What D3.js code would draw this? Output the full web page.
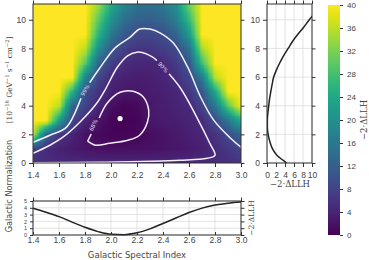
<!DOCTYPE html>
<html>
<head>
<meta charset="utf-8">
<script src="https://cdn.jsdelivr.net/npm/d3@7"></script>
<style>
  body { margin: 0; background: #fff; }
  svg { display: block; font-family: "DejaVu Sans", sans-serif; }
  .tick text { fill: #444; }
  .tick line { stroke: #333; }
</style>
</head>
<body>
<script>
// grid of -2*dLLH (rows = normalization, cols = spectral index)
var indexGrid = [1.4, 1.5, 1.6, 1.7, 1.8, 1.9, 2.0, 2.1, 2.2, 2.3, 2.4, 2.5, 2.6, 2.7, 2.8, 2.9, 3.0];
var normGrid = [0, 1, 2, 3, 4, 5, 6, 7, 8, 9, 10, 11];
var llhGrid = [
  [5.2, 4.9, 4.8, 4.7, 4.7, 4.6, 4.6, 4.6, 4.6, 4.6, 4.6, 4.6, 4.7, 4.8, 5.0, 5.4, 6.0],
  [7.0, 4.8, 3.6, 2.8, 2.2, 1.8, 1.6, 1.5, 1.6, 1.8, 2.0, 2.4, 2.9, 3.6, 4.9, 6.5, 8.5],
  [36, 12, 6.5, 4.0, 1.8, 0.9, 0.5, 0.4, 0.7, 1.4, 1.9, 2.6, 3.4, 4.3, 6.0, 9.0, 13],
  [60, 40, 22, 8.5, 4.0, 2.2, 0.5, 0.1, 0.5, 2.4, 3.0, 3.5, 4.0, 5.0, 9.3, 16, 25],
  [60, 50, 36, 13, 8.0, 4.2, 1.5, 0.4, 1.0, 2.6, 3.3, 3.9, 4.5, 8.0, 16, 30, 46],
  [70, 60, 46, 26, 9.2, 6.0, 3.6, 2.4, 2.4, 3.0, 3.6, 4.2, 6.5, 11, 24, 40, 55],
  [80, 70, 55, 40, 18, 8.5, 4.6, 3.6, 3.3, 3.5, 4.0, 5.5, 8.5, 17, 36, 55, 70],
  [90, 80, 65, 48, 30, 13, 7.5, 5.0, 4.4, 4.3, 4.7, 7.0, 11, 28, 46, 65, 80],
  [95, 85, 72, 55, 36, 20, 11, 7.5, 6.0, 6.2, 7.3, 9.0, 15, 35, 55, 72, 85],
  [100, 90, 78, 60, 40, 26, 16, 11, 8.8, 8.6, 9.5, 13, 22, 42, 62, 78, 90],
  [105, 95, 82, 65, 44, 30, 20, 14.5, 12, 11.8, 13, 17, 27, 45, 65, 82, 95],
  [110, 100, 86, 70, 48, 34, 24, 18, 15, 14.5, 16, 20, 31, 48, 68, 85, 100]
];

// contours [index, norm]
var contour68 = [[1.82, 1.52], [1.89, 2.78], [1.97, 4.17], [2.07, 4.94], [2.17, 5.01], [2.25, 4.59],
  [2.29, 3.69], [2.28, 2.85], [2.22, 1.94], [2.13, 1.59], [1.99, 1.38], [1.88, 1.24], [1.82, 1.52]];
var contour90 = [[1.40, 0.68], [1.53, 1.24], [1.63, 1.80], [1.76, 2.85], [1.89, 4.17], [1.96, 5.2],
  [2.05, 6.7], [2.13, 7.5], [2.20, 7.74], [2.32, 7.39], [2.40, 6.69], [2.53, 5.29], [2.66, 3.19],
  [2.76, 1.38], [2.80, 0.54], [2.74, 0.33], [2.53, 0.19], [2.32, 0.12], [1.92, 0.05], [1.40, 0.02]];
var contour99 = [[1.40, 1.45], [1.53, 1.94], [1.66, 2.52], [1.80, 5.08], [1.92, 6.71], [2.03, 8.02],
  [2.15, 8.81], [2.22, 9.35], [2.30, 9.35], [2.38, 9.07], [2.48, 8.37], [2.59, 6.69], [2.69, 4.59],
  [2.79, 2.99], [2.92, 1.73], [3.00, 1.10]];
var labelText = ["68%", "90%", "99%"];
var labelPos = [[1.865, 2.64], [2.40, 6.69], [1.80, 5.08]];
var labelAngle = [-63, 48, -61];
var bestFit = [2.07, 3.1];

// profiles
var profIndex = [1.4, 1.5, 1.6, 1.7, 1.8, 1.9, 2.0, 2.1, 2.2, 2.3, 2.4, 2.5, 2.6, 2.7, 2.8, 2.9, 3.0];
var profIndexLLH = [3.95, 3.35, 2.7, 1.9, 1.13, 0.5, 0.1, 0.05, 0.32, 0.9, 1.7, 2.5, 3.3, 3.95, 4.4, 4.68, 4.85];
var profNorm = [0, 0.5, 1, 1.5, 2, 2.5, 3, 3.5, 4, 4.5, 5, 5.5, 6, 6.5, 7, 7.5, 8, 8.5, 9, 9.5, 10, 10.5, 11];
var profNormLLH = [4.4, 2.3, 1.2, 0.62, 0.25, 0.08, 0.08, 0.2, 0.38, 0.58, 0.85, 1.15, 1.48, 2.1, 2.85,
  3.7, 4.7, 5.7, 6.9, 8.2, 9.4, 10.7, 12.1];

var indexTicks = [1.4, 1.6, 1.8, 2.0, 2.2, 2.4, 2.6, 2.8, 3.0];
var normTicks = [0, 2, 4, 6, 8, 10];
var llhTicks = [0, 2, 4, 6, 8, 10];
var smallTicks = [0, 1, 2, 3, 4, 5];
var barTicks = [0, 4, 8, 12, 16, 20, 24, 28, 32, 36, 40];

var W = 369, H = 260;
var VMAX = 40;

function main() {
  var svg = d3.select("body").append("svg").attr("width", W).attr("height", H);
  var defs = svg.append("defs");

  var x = d3.scaleLinear().domain([1.4, 3.0]).range([33, 241]);
  var y = d3.scaleLinear().domain([0, 11.1]).range([163, 4]);
  var rx = d3.scaleLinear().domain([0, 10]).range([267, 312]);
  var by = d3.scaleLinear().domain([0, 5]).range([235, 201]);
  var cy = d3.scaleLinear().domain([0, VMAX]).range([235, 5]);
  var color = function(v) { return d3.interpolateViridis(Math.max(0, Math.min(v, VMAX)) / VMAX); };

  heatmap(svg, x, y, color);

  defs.append("clipPath").attr("id", "mainClip").append("rect")
    .attr("x", x(1.4)).attr("y", y(11.1)).attr("width", x(3.0) - x(1.4)).attr("height", y(0) - y(11.1));

  // contour lines with gaps for labels
  var mask = defs.append("mask").attr("id", "labelMask");
  mask.append("rect").attr("width", W).attr("height", H).attr("fill", "#fff");
  labelPos.forEach(function(p, k) {
    mask.append("rect").attr("x", -9).attr("y", -3.5).attr("width", 18).attr("height", 7)
      .attr("fill", "#000")
      .attr("transform", "translate(" + x(p[0]) + "," + y(p[1]) + ") rotate(" + labelAngle[k] + ")");
  });
  var line = d3.line().x(function(d) { return x(d[0]); }).y(function(d) { return y(d[1]); })
    .curve(d3.curveCatmullRom);
  var cg = svg.append("g").attr("clip-path", "url(#mainClip)");
  var cgm = cg.append("g").attr("mask", "url(#labelMask)");
  [contour68, contour90, contour99].forEach(function(c) {
    cgm.append("path").attr("d", line(c)).attr("fill", "none")
      .attr("stroke", "#f4eef8").attr("stroke-width", 1.5);
  });
  labelPos.forEach(function(p, k) {
    cg.append("text").text(labelText[k])
      .attr("transform", "translate(" + x(p[0]) + "," + y(p[1]) + ") rotate(" + labelAngle[k] + ")")
      .attr("text-anchor", "middle").attr("dy", "0.35em")
      .attr("font-size", 5.5).attr("fill", "#e6dcef");
  });
  svg.append("circle").attr("cx", x(bestFit[0])).attr("cy", y(bestFit[1])).attr("r", 2.6).attr("fill", "#fff");

  frame(svg, x, y, indexTicks, normTicks, true);

  // right panel: profile over normalization
  grid(svg, rx, y, llhTicks, normTicks);
  defs.append("clipPath").attr("id", "rightClip").append("rect")
    .attr("x", rx(0)).attr("y", y(11.1)).attr("width", rx(10) - rx(0)).attr("height", y(0) - y(11.1));
  var rline = d3.line().x(function(d) { return rx(d); }).y(function(d, i) { return y(profNorm[i]); })
    .curve(d3.curveMonotoneY);
  svg.append("path").attr("d", rline(profNormLLH)).attr("clip-path", "url(#rightClip)")
    .attr("fill", "none").attr("stroke", "#222").attr("stroke-width", 1.5);
  frame(svg, rx, y, llhTicks, normTicks, true);
  svg.append("text").attr("x", 290).attr("y", 187).attr("text-anchor", "middle")
    .attr("font-family", "DejaVu Serif").attr("font-size", 8.5).attr("fill", "#444").text("\u22122\u00b7\u0394LLH");

  // bottom panel: profile over index
  grid(svg, x, by, indexTicks, smallTicks);
  var bline = d3.line().x(function(d, i) { return x(profIndex[i]); }).y(function(d) { return by(d); })
    .curve(d3.curveMonotoneX);
  svg.append("path").attr("d", bline(profIndexLLH))
    .attr("fill", "none").attr("stroke", "#222").attr("stroke-width", 1.5);
  frame(svg, x, by, indexTicks, smallTicks, false);
  svg.append("text").attr("x", 137).attr("y", 257.5).attr("text-anchor", "middle")
    .attr("font-size", 8.5).attr("fill", "#444").text("Galactic Spectral Index");
  svg.append("text").attr("transform", "translate(254,218) rotate(-90)").attr("text-anchor", "middle")
    .attr("font-family", "DejaVu Serif").attr("font-size", 7.5).attr("fill", "#444").text("\u22122\u00b7\u0394LLH");

  // y label
  svg.append("text").attr("transform", "translate(12,186) rotate(-90)").attr("text-anchor", "middle")
    .attr("font-size", 8.2).attr("fill", "#444").text("Galactic Normalization");
  var u = svg.append("text").attr("transform", "translate(12,80) rotate(-90)").attr("text-anchor", "middle")
    .attr("font-family", "DejaVu Serif").attr("font-size", 7.4).attr("fill", "#444");
  u.append("tspan").text("[10");
  u.append("tspan").attr("font-size", 5.2).attr("dy", -3).text("\u221218");
  u.append("tspan").attr("dy", 3).text(" GeV");
  u.append("tspan").attr("font-size", 5.2).attr("dy", -3).text("\u22121");
  u.append("tspan").attr("dy", 3).text(" s");
  u.append("tspan").attr("font-size", 5.2).attr("dy", -3).text("\u22121");
  u.append("tspan").attr("dy", 3).text(" cm");
  u.append("tspan").attr("font-size", 5.2).attr("dy", -3).text("\u22122");
  u.append("tspan").attr("dy", 3).text("]");

  // colorbar
  var grad = defs.append("linearGradient").attr("id", "cbar")
    .attr("x1", 0).attr("y1", 1).attr("x2", 0).attr("y2", 0);
  d3.range(0, VMAX + 1, 2).forEach(function(v) {
    grad.append("stop").attr("offset", v / VMAX).attr("stop-color", color(v));
  });
  svg.append("rect").attr("x", 328).attr("y", cy(VMAX)).attr("width", 12).attr("height", cy(0) - cy(VMAX))
    .attr("fill", "url(#cbar)");
  var ca = svg.append("g").attr("transform", "translate(340,0)")
    .call(d3.axisRight(cy).tickValues(barTicks).tickSize(3).tickPadding(4).tickSizeOuter(0));
  ca.select(".domain").remove();
  ca.selectAll("text").attr("font-size", 8);
  svg.append("text").attr("transform", "translate(367,120) rotate(-90)").attr("text-anchor", "middle")
    .attr("font-family", "DejaVu Serif").attr("font-size", 8.5).attr("fill", "#444").text("\u22122\u00b7\u0394LLH");
}

function heatmap(svg, x, y, color) {
  //grid values go in as gray levels, the browser scales the image smoothly,
  //then every pixel is coloured with viridis (like imshow with bilinear)
  var cv = document.createElement("canvas");
  cv.width = indexGrid.length; cv.height = normGrid.length;
  var ctx = cv.getContext("2d");
  llhGrid.forEach(function(row, j) {
    row.forEach(function(v, i) {
      var g = Math.round(Math.max(0, Math.min(v, VMAX)) / VMAX * 255);
      ctx.fillStyle = "rgb(" + g + "," + g + "," + g + ")";
      ctx.fillRect(i, normGrid.length - 1 - j, 1, 1);
    });
  });
  var pw = Math.round(x(3.0) - x(1.4)), ph = Math.round(y(0) - y(11.1));
  var big = document.createElement("canvas");
  big.width = pw; big.height = ph;
  var bctx = big.getContext("2d");
  bctx.imageSmoothingEnabled = true;
  var dx = 0.05, dy = 0.5;
  bctx.drawImage(cv, x(1.4 - dx) - x(1.4), y(11 + dy) - y(11.1),
    x(3.0 + dx) - x(1.4 - dx), y(-dy) - y(11 + dy));
  var lut = d3.range(256).map(function(k) { return d3.rgb(color(k / 255 * VMAX)); });
  var img = bctx.getImageData(0, 0, pw, ph);
  for (var p = 0; p < img.data.length; p += 4) {
    var c = lut[img.data[p]];
    img.data[p] = c.r; img.data[p + 1] = c.g; img.data[p + 2] = c.b; img.data[p + 3] = 255;
  }
  bctx.putImageData(img, 0, 0);
  svg.append("image")
    .attr("href", big.toDataURL())
    .attr("preserveAspectRatio", "none")
    .attr("x", x(1.4)).attr("y", y(11.1)).attr("width", pw).attr("height", ph);
}

function grid(svg, xs, ys, xt, yt) {
  //light grid lines behind profile curves
  var g = svg.append("g").attr("stroke", "#dcdcdc").attr("stroke-width", 0.8);
  xt.forEach(function(t) {
    g.append("line").attr("x1", xs(t)).attr("x2", xs(t)).attr("y1", ys.range()[0]).attr("y2", ys.range()[1]);
  });
  yt.forEach(function(t) {
    g.append("line").attr("y1", ys(t)).attr("y2", ys(t)).attr("x1", xs.range()[0]).attr("x2", xs.range()[1]);
  });
}

function frame(svg, xs, ys, xt, yt, bigY) {
  //ticks on all four sides, labels bottom and left
  var x0 = xs.range()[0], x1 = xs.range()[1], y0 = ys.range()[0], y1 = ys.range()[1];
  var fs = bigY ? 8.5 : 5.5;
  var b = svg.append("g").attr("transform", "translate(0," + y0 + ")")
    .call(d3.axisBottom(xs).tickValues(xt).tickSize(bigY ? 4 : -3).tickPadding(bigY ? 5 : 2)
      .tickFormat(d3.format(xs.domain()[1] > 5 ? "d" : ".1f")));
  b.selectAll("text").attr("font-size", 8.5);
  var t = svg.append("g").attr("transform", "translate(0," + y1 + ")")
    .call(d3.axisTop(xs).tickValues(xt).tickSize(3.5).tickFormat(""));
  var l = svg.append("g").attr("transform", "translate(" + x0 + ",0)")
    .call(d3.axisLeft(ys).tickValues(yt).tickSize(bigY ? 4 : 3).tickPadding(3).tickFormat(d3.format("d")));
  l.selectAll("text").attr("font-size", fs);
  var r = svg.append("g").attr("transform", "translate(" + x1 + ",0)")
    .call(d3.axisRight(ys).tickValues(yt).tickSize(3.5).tickFormat(""));
  [b, t, l, r].forEach(function(a) { a.select(".domain").remove(); a.selectAll("line").attr("stroke", "#333"); });
  svg.append("rect").attr("x", x0).attr("y", y1).attr("width", x1 - x0).attr("height", y0 - y1)
    .attr("fill", "none").attr("stroke", "#333").attr("stroke-width", 1);
}

main();
</script>
</body>
</html>
